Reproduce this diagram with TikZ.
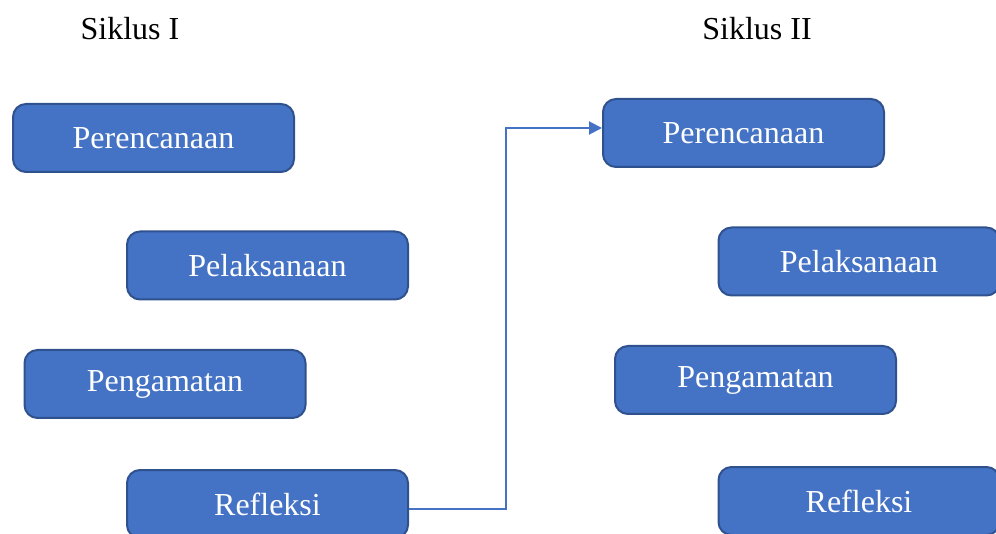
\documentclass[tikz,border=0pt]{standalone}
\usepackage{fontspec}
\setmainfont{Liberation Serif}
\usetikzlibrary{arrows.meta}
\definecolor{boxfill}{HTML}{4472C4}
\definecolor{boxline}{HTML}{2F528F}
\begin{document}
\begin{tikzpicture}[x=1pt,y=-1pt,
  stagebox/.style={draw=boxline,line width=2pt,fill=boxfill,rounded corners=13pt,
    minimum width=281pt,minimum height=68pt,inner sep=0pt,text=white,
    font=\fontsize{32}{36}\selectfont},
  title/.style={font=\fontsize{32}{36}\selectfont,inner sep=0pt},
  conn/.style={draw=boxfill,line width=2pt,-{Triangle[length=13pt,width=13pt]}}]
\useasboundingbox (0,0) rectangle (996,534);
\clip (0,0) rectangle (996,534);
\node[title] (t1) at (130,29) {Siklus I};
\node[title] (t2) at (757,29) {Siklus II};
\node[stagebox] (a1) at (153.5,138) {Perencanaan};
\node[stagebox] (b1) at (267.5,265.5) {Pelaksanaan};
\node[stagebox] (c1) at (165,384) {Pengamatan};
\node[stagebox] (d1) at (267.5,504) {Refleksi};
\node[stagebox] (a2) at (743.5,133) {Perencanaan};
\node[stagebox] (b2) at (859,261.5) {Pelaksanaan};
\node[stagebox] (c2) at (755.5,380) {Pengamatan};
\node[stagebox] (d2) at (859,501) {Refleksi};
\coordinate (bend) at (505.5,509);
\draw[conn] (d1.east |- bend) -- (bend) |- ([yshift=5pt]a2.west);
\end{tikzpicture}
\end{document}
